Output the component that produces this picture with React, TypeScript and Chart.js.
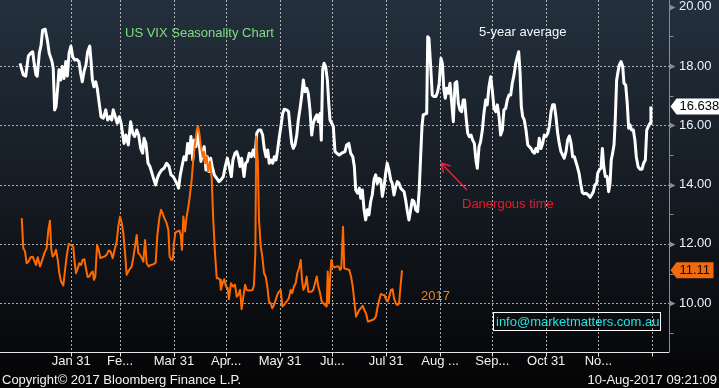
import React, { useEffect, useRef } from 'react';
import { Chart, registerables } from 'chart.js';

Chart.register(...registerables);

// ---------- data ----------
const monthEndDays = [31, 59, 90, 120, 151, 181, 212, 243, 273, 304, 334, 365];
const monthLabels = ['Jan 31', 'Fe...', 'Mar 31', 'Apr...', 'May 31', 'Ju...', 'Jul 31', 'Aug ...', 'Sep...', 'Oct 31', 'No...', ''];
const yTickValues = [9, 10, 11, 12, 13, 14, 15, 16, 17, 18, 19, 20];
const yGridValues = [10, 12, 14, 16, 18];

// 5-year average (day of year, VIX)
const avgDays = [
  1.5, 3.4, 4.8, 6.3, 7.6, 8.8, 9.5, 10.7, 11.4, 12.6, 13.6, 14.5, 16.0, 17.2, 18.3, 19.9, 20.6, 21.4, 22.2, 23.2,
  23.9, 24.9, 25.8, 26.8, 27.8, 28.7, 29.7, 30.8, 31.8, 32.9, 34.1, 35.4, 36.4, 37.3, 38.3, 39.4, 40.4, 41.6, 42.3, 43.1,
  44.0, 45.0, 45.9, 46.9, 48.1, 49.4, 50.8, 51.9, 53.2, 54.2, 55.1, 56.3, 57.4, 58.6, 59.6, 61.3, 62.4, 63.8, 65.1, 66.3,
  67.4, 68.6, 69.7, 70.9, 72.0, 72.8, 73.9, 75.1, 76.2, 77.4, 78.5, 79.5, 80.4, 81.6, 82.9, 84.3, 85.8, 87.2, 88.3, 89.6,
  90.6, 91.6, 92.7, 93.5, 94.6, 95.8, 96.9, 97.9, 98.8, 99.8, 100.8, 101.7, 102.7, 103.7, 104.6, 105.5, 106.5, 107.4, 108.4, 109.2,
  110.1, 111.1, 112.0, 113.2, 114.6, 115.9, 117.0, 118.4, 119.5, 120.7, 121.8, 123.0, 123.9, 125.1, 126.1, 127.0, 128.0, 128.9, 130.3, 131.2,
  132.2, 133.3, 134.5, 135.6, 136.6, 137.6, 138.7, 139.9, 141.0, 141.9, 142.9, 143.9, 144.8, 145.8, 146.8, 147.7, 148.7, 149.6, 150.6, 151.5,
  152.5, 153.4, 154.8, 155.9, 156.7, 157.7, 158.6, 159.6, 160.6, 161.5, 162.5, 163.4, 164.4, 165.3, 166.3, 167.2, 168.2, 169.2, 170.1, 171.1,
  172.1, 173.0, 174.0, 174.7, 175.5, 176.3, 177.2, 178.2, 179.0, 179.7, 180.7, 181.6, 182.6, 183.6, 185.0, 186.4, 188.3, 189.3, 190.5, 191.6,
  192.8, 193.7, 194.5, 195.6, 196.6, 197.4, 198.3, 199.3, 200.2, 201.2, 202.1, 203.1, 204.0, 205.0, 206.0, 206.9, 207.9, 208.9, 209.8, 210.8,
  211.7, 212.6, 213.6, 214.6, 215.5, 216.5, 217.5, 218.4, 219.4, 220.4, 221.3, 222.3, 223.2, 224.2, 225.1, 226.1, 227.0, 228.0, 229.0, 230.1,
  231.0, 231.9, 232.6, 233.3, 234.3, 235.3, 235.9, 236.6, 237.6, 238.5, 239.5, 240.6, 241.6, 242.5, 243.5, 244.3, 245.2, 246.0, 246.8, 247.7,
  248.7, 249.7, 250.6, 251.6, 252.6, 253.5, 254.4, 255.4, 256.3, 257.1, 257.9, 258.9, 259.8, 260.8, 261.7, 262.7, 263.6, 264.4, 265.4, 266.3,
  267.3, 268.2, 269.2, 270.1, 271.1, 272.1, 273.0, 274.0, 275.0, 275.9, 276.9, 277.8, 278.8, 279.7, 280.7, 281.6, 282.6, 283.6, 284.5, 285.5,
  286.5, 287.4, 288.2, 289.0, 289.7, 290.5, 291.4, 292.4, 293.4, 294.3, 295.3, 296.2, 297.2, 298.1, 299.1, 300.0, 301.0, 302.0, 302.9, 303.9,
  304.9, 305.8, 306.8, 307.7, 308.7, 309.6, 310.6, 311.5, 312.5, 314.4, 315.4, 316.3, 317.3, 318.3, 319.2, 320.2, 321.0, 321.9, 322.9, 323.8,
  324.8, 325.7, 326.9, 328.2, 329.2, 330.1, 331.1, 332.0, 333.0, 333.6, 334.5, 335.5, 336.3, 337.1, 338.0, 339.0, 339.9, 340.7, 341.4, 342.2,
  343.0, 343.7, 344.5, 345.3, 346.0, 347.0, 348.0, 348.7, 349.7, 350.6, 351.4, 352.2, 353.1, 354.1, 355.0, 355.8, 356.8, 357.9, 359.1, 360.0,
  361.0, 361.8, 362.7, 363.7, 364.2,
];
const avgValues = [
  18.09, 17.70, 17.66, 18.34, 18.43, 18.48, 18.15, 17.70, 17.66, 18.43, 18.70, 19.21, 19.24, 18.88, 18.43, 18.15, 17.92, 16.52, 16.63, 17.30,
  17.87, 17.53, 17.98, 17.58, 18.15, 17.66, 18.43, 18.67, 18.31, 18.20, 18.22, 18.15, 17.75, 17.47, 17.81, 18.03, 18.48, 18.67, 18.20, 17.53,
  17.30, 17.47, 17.25, 16.80, 16.29, 16.24, 16.52, 16.18, 16.29, 16.18, 16.52, 16.29, 16.07, 16.29, 16.07, 15.39, 15.67, 15.34, 16.12, 15.73,
  15.62, 15.84, 15.67, 15.22, 15.06, 15.56, 15.39, 14.72, 14.61, 14.38, 14.16, 13.99, 14.21, 14.38, 14.49, 14.55, 14.72, 14.61, 14.33, 14.27,
  14.16, 14.04, 13.88, 14.27, 14.61, 14.94, 14.83, 15.39, 15.06, 15.62, 14.83, 15.50, 15.28, 15.84, 15.34, 14.78, 15.06, 15.28, 14.49, 14.94,
  14.44, 14.89, 14.61, 14.33, 14.21, 14.10, 14.16, 14.27, 14.61, 14.89, 14.61, 14.27, 14.83, 15.06, 15.11, 14.94, 14.61, 14.89, 14.27, 14.72,
  14.78, 15.06, 14.94, 15.17, 14.94, 15.73, 15.84, 15.84, 15.67, 15.22, 14.94, 15.17, 14.72, 14.83, 14.72, 14.94, 14.83, 15.17, 15.62, 15.96,
  16.40, 16.54, 16.52, 16.46, 15.96, 15.39, 15.22, 15.34, 15.67, 16.18, 16.57, 16.97, 17.53, 17.13, 17.25, 17.08, 16.52, 15.67, 16.07, 16.24,
  16.35, 16.12, 16.40, 15.50, 17.87, 18.09, 17.98, 17.53, 16.74, 16.18, 16.07, 15.96, 15.11, 15.06, 15.00, 15.06, 15.11, 15.34, 15.39, 15.06,
  14.94, 14.61, 13.82, 13.71, 13.88, 13.54, 13.82, 13.15, 12.81, 13.15, 12.98, 13.43, 13.65, 14.16, 14.33, 14.04, 14.21, 14.16, 13.60, 13.93,
  14.38, 14.72, 14.49, 14.16, 14.04, 13.65, 13.93, 14.10, 14.04, 13.88, 13.82, 13.76, 13.48, 13.09, 12.81, 13.15, 13.48, 13.43, 13.15, 13.09,
  13.82, 15.06, 15.96, 16.35, 16.38, 16.40, 18.99, 18.93, 17.98, 17.02, 16.97, 16.97, 17.13, 17.42, 18.26, 18.09, 17.19, 16.91, 17.25, 17.08,
  17.42, 16.74, 16.12, 17.42, 17.47, 16.74, 16.52, 16.46, 16.85, 16.85, 16.29, 15.73, 15.62, 15.67, 15.50, 15.39, 14.83, 14.55, 15.28, 15.45,
  15.84, 16.40, 16.85, 16.69, 17.30, 17.64, 17.19, 16.57, 16.46, 16.69, 16.29, 15.67, 15.84, 16.52, 16.57, 16.85, 17.02, 17.02, 17.42, 17.70,
  18.09, 18.31, 18.48, 17.75, 16.63, 16.29, 16.18, 15.84, 15.34, 15.28, 15.22, 15.11, 15.06, 15.22, 15.11, 15.56, 15.22, 15.39, 15.67, 15.62,
  15.73, 15.96, 16.46, 16.69, 16.69, 16.29, 15.73, 15.39, 15.11, 14.89, 15.11, 15.50, 15.64, 15.39, 14.94, 14.94, 14.78, 14.61, 14.38, 14.04,
  13.73, 13.69, 13.71, 13.65, 13.57, 13.65, 13.76, 13.99, 14.04, 14.38, 14.49, 14.55, 15.22, 14.61, 14.27, 14.27, 13.76, 14.04, 14.83, 15.06,
  15.34, 16.18, 17.53, 17.81, 18.03, 18.15, 17.98, 17.42, 17.36, 16.74, 15.90, 16.01, 15.84, 15.84, 15.50, 14.94, 14.61, 14.52, 14.52, 14.72,
  14.83, 15.84, 15.96, 16.07, 16.638,
];

// 2017 (day of year, VIX)
const y2017Days = [
  2.5, 3.4, 4.4, 5.3, 6.3, 7.6, 8.8, 10.7, 11.7, 13.0, 14.3, 15.5, 16.8, 17.8, 18.7, 19.5, 20.3, 21.2, 22.2, 23.2,
  24.1, 25.1, 26.4, 27.4, 28.3, 29.5, 30.6, 32.1, 32.9, 33.7, 34.7, 35.6, 36.6, 37.5, 38.5, 39.4, 40.4, 41.3, 42.3, 43.3,
  44.0, 44.8, 45.8, 46.7, 47.7, 48.8, 50.0, 51.3, 52.5, 53.6, 54.8, 55.9, 57.1, 58.0, 59.0, 60.0, 60.9, 61.9, 62.8, 64.3,
  65.7, 66.6, 67.6, 68.6, 69.5, 70.5, 71.5, 72.4, 73.4, 74.3, 75.5, 76.6, 78.1, 79.5, 80.4, 81.6, 82.6, 83.5, 84.5, 85.8,
  86.8, 87.5, 88.5, 89.3, 90.0, 90.8, 91.9, 93.1, 93.9, 94.6, 95.4, 96.4, 97.3, 98.3, 99.2, 100.2, 101.1, 102.1, 103.1, 103.8,
  104.6, 105.5, 106.5, 107.3, 108.0, 108.8, 109.7, 110.7, 111.7, 112.6, 113.6, 114.6, 115.5, 116.5, 117.0, 118.0, 118.9, 119.9, 120.9, 121.6,
  122.8, 124.1, 125.1, 126.1, 127.0, 128.0, 128.9, 129.9, 130.9, 131.8, 132.8, 134.1, 135.3, 136.0, 136.8, 137.3, 138.2, 138.9, 139.9, 140.8,
  141.8, 142.7, 143.7, 144.6, 145.6, 146.5, 147.5, 148.5, 149.4, 150.4, 151.4, 152.3, 153.3, 154.2, 155.2, 156.1, 157.1, 158.0, 159.0, 160.0,
  160.9, 161.9, 162.9, 163.6, 164.4, 165.3, 166.3, 167.2, 168.2, 169.2, 170.1, 171.1, 172.1, 173.0, 174.0, 174.9, 175.9, 176.8, 177.8, 178.4,
  179.1, 179.7, 180.5, 181.3, 182.4, 183.6, 184.7, 185.5, 186.2, 187.2, 187.9, 189.3, 190.8, 191.8, 192.8, 193.7, 194.7, 195.6, 196.6, 197.5,
  198.5, 199.4, 200.4, 201.5, 202.7, 203.8, 205.0, 206.1, 207.1, 208.0, 208.9, 210.0, 211.0, 211.9, 212.9, 213.8, 214.8, 215.7, 216.5, 217.5,
  218.4, 219.4, 220.4, 221.1,
];
const y2017Values = [
  12.87, 11.85, 11.74, 11.35, 11.40, 11.55, 11.57, 11.29, 11.55, 11.24, 11.46, 11.69, 11.85, 12.47, 12.78, 11.80, 11.57, 11.63, 11.80, 11.46,
  11.01, 10.73, 10.60, 11.12, 11.57, 12.00, 11.97, 11.91, 11.40, 11.01, 11.18, 11.35, 11.29, 11.46, 11.48, 11.18, 10.88, 10.90, 11.01, 11.07,
  10.79, 10.90, 11.97, 11.80, 11.52, 11.55, 11.57, 11.63, 11.78, 11.74, 11.52, 11.80, 12.08, 12.58, 12.92, 12.70, 12.36, 11.69, 10.96, 11.12,
  11.24, 11.52, 11.91, 12.30, 11.69, 11.63, 11.52, 11.40, 12.13, 11.35, 11.24, 11.29, 11.31, 11.37, 12.25, 12.87, 13.15, 13.03, 12.87, 12.70,
  12.47, 11.57, 11.46, 11.48, 12.02, 12.38, 12.42, 12.45, 12.30, 11.80, 12.92, 12.42, 12.92, 13.26, 13.65, 14.16, 14.83, 15.39, 15.84, 15.98,
  15.73, 15.28, 14.94, 15.11, 14.72, 14.94, 14.44, 14.78, 14.21, 12.81, 11.69, 10.84, 10.84, 10.79, 10.45, 10.67, 10.81, 10.56, 10.51, 10.13,
  10.67, 10.56, 10.62, 10.22, 10.28, 10.45, 9.80, 10.22, 10.62, 10.45, 10.43, 10.43, 10.45, 10.62, 11.69, 15.62, 14.83, 12.81, 11.91, 11.57,
  11.01, 10.90, 10.56, 10.06, 10.00, 9.83, 9.94, 10.11, 10.28, 10.39, 10.45, 9.89, 9.94, 10.02, 10.09, 10.17, 10.45, 10.34, 10.56, 10.67,
  11.01, 11.18, 11.46, 10.79, 10.45, 10.56, 10.90, 10.39, 10.39, 10.39, 10.45, 10.67, 10.90, 10.56, 10.34, 10.06, 10.00, 9.94, 9.89, 11.07,
  10.00, 10.79, 11.46, 11.24, 11.21, 11.24, 11.24, 11.12, 11.18, 12.58, 11.18, 11.15, 11.12, 10.90, 10.56, 10.06, 9.55, 9.66, 9.78, 9.83,
  9.91, 9.78, 9.66, 9.38, 9.40, 9.43, 9.46, 9.55, 9.89, 10.11, 10.31, 10.28, 10.28, 10.13, 10.06, 10.22, 10.45, 10.47, 10.17, 10.00,
  9.94, 9.98, 10.67, 11.11,
];

// ---------- styling ----------
const FONT = "'Liberation Sans', Arial, sans-serif";
const WHITE = '#ffffff';
const ORANGE = '#ff6a00';

const notes = [
  { text: 'US VIX Seasonality Chart', x: 125, y: 33, color: '#80dc80' },
  { text: '5-year average', x: 479, y: 32, color: '#f4f6fa' },
  { text: 'Danergous time', x: 462, y: 204, color: '#e81c30' },
  { text: '2017', x: 421, y: 296, color: '#f0801c' },
];

const decoPlugin = {
  id: 'deco',
  beforeDraw(chart: any) {
    const { ctx, width, height } = chart;
    const g = ctx.createLinearGradient(0, 0, 0, height);
    g.addColorStop(0, '#23303d');
    g.addColorStop(0.5, '#151b22');
    g.addColorStop(1, '#040405');
    ctx.save();
    ctx.fillStyle = g;
    ctx.fillRect(0, 0, width, height);
    ctx.restore();
  },
  beforeDatasetsDraw(chart: any) {
    const { ctx, chartArea: a, scales } = chart;
    const x = scales.x, y = scales.y;
    ctx.save();
    ctx.strokeStyle = 'rgba(200,200,200,0.85)';
    ctx.lineWidth = 1;
    ctx.setLineDash([2, 2]);
    for (const d of monthEndDays) {
      const px = Math.round(x.getPixelForValue(d)) + 0.5;
      ctx.beginPath();
      ctx.moveTo(px, 0);
      ctx.lineTo(px, a.bottom);
      ctx.stroke();
    }
    for (const v of yGridValues) {
      const py = Math.round(y.getPixelForValue(v)) + 0.5;
      ctx.beginPath();
      ctx.moveTo(a.left, py);
      ctx.lineTo(a.right, py);
      ctx.stroke();
    }
    ctx.restore();
  },
  afterDraw(chart: any) {
    const { ctx, chartArea: a, scales, width } = chart;
    const x = scales.x, y = scales.y;
    ctx.save();
    // bottom axis
    const by = Math.round(a.bottom) + 0.5;
    ctx.strokeStyle = '#e6e6e6';
    ctx.lineWidth = 1;
    ctx.beginPath();
    ctx.moveTo(0, by);
    ctx.lineTo(a.right, by);
    ctx.stroke();
    for (const d of monthEndDays) {
      const px = Math.round(x.getPixelForValue(d)) + 0.5;
      ctx.beginPath();
      ctx.moveTo(px, by);
      ctx.lineTo(px, by + 4);
      ctx.stroke();
    }
    // right axis
    const rx = Math.round(a.right) + 0.5;
    ctx.strokeStyle = '#8c8c8c';
    ctx.beginPath();
    ctx.moveTo(rx, 0);
    ctx.lineTo(rx, by);
    ctx.stroke();
    ctx.fillStyle = '#8c8c8c';
    for (const v of yTickValues) {
      const py = Math.round(y.getPixelForValue(v)) + 0.5;
      if (v % 2 === 0) {
        ctx.beginPath();
        ctx.moveTo(rx, py - 3);
        ctx.lineTo(rx + 6, py);
        ctx.lineTo(rx, py + 3);
        ctx.closePath();
        ctx.fill();
      } else {
        ctx.beginPath();
        ctx.moveTo(rx, py);
        ctx.lineTo(rx + 4, py);
        ctx.stroke();
      }
    }
    // annotations
    ctx.font = `13px ${FONT}`;
    ctx.textBaseline = 'middle';
    ctx.textAlign = 'left';
    for (const n of notes) {
      ctx.fillStyle = n.color;
      ctx.fillText(n.text, n.x, n.y);
    }
    // arrow
    ctx.strokeStyle = '#ec2040';
    ctx.lineWidth = 1.5;
    const tail = [467, 190], tip = [441, 163];
    ctx.beginPath();
    ctx.moveTo(tail[0], tail[1]);
    ctx.lineTo(tip[0], tip[1]);
    const ang = Math.atan2(tip[1] - tail[1], tip[0] - tail[0]);
    const hl = 10;
    ctx.moveTo(tip[0], tip[1]);
    ctx.lineTo(tip[0] - hl * Math.cos(ang - 0.5), tip[1] - hl * Math.sin(ang - 0.5));
    ctx.moveTo(tip[0], tip[1]);
    ctx.lineTo(tip[0] - hl * Math.cos(ang + 0.5), tip[1] - hl * Math.sin(ang + 0.5));
    ctx.stroke();
    // info box
    ctx.strokeStyle = '#ffffff';
    ctx.lineWidth = 1;
    ctx.strokeRect(493.5, 312.5, 167, 18);
    ctx.fillStyle = '#22e4e4';
    ctx.font = `13px ${FONT}`;
    ctx.fillText('info@marketmatters.com.au', 496, 322);
    // footer
    ctx.font = `13px ${FONT}`;
    ctx.fillStyle = '#f2f2f2';
    ctx.fillText('Copyright\u00a9 2017 Bloomberg Finance L.P.', 2, 380);
    ctx.textAlign = 'right';
    ctx.fillText('10-Aug-2017 09:21:09', 717, 380);
    ctx.textAlign = 'left';
    // last-value badges
    const badge = (val: number, text: string, fill: string, tc: string, right: number) => {
      const py = y.getPixelForValue(val);
      const h = 16;
      ctx.fillStyle = fill;
      ctx.beginPath();
      ctx.moveTo(rx + 1, py);
      ctx.lineTo(rx + 7, py - h / 2);
      ctx.lineTo(right, py - h / 2);
      ctx.lineTo(right, py + h / 2);
      ctx.lineTo(rx + 7, py + h / 2);
      ctx.closePath();
      ctx.fill();
      ctx.fillStyle = tc;
      ctx.font = `13px ${FONT}`;
      ctx.fillText(text, rx + 10, py + 0.5);
    };
    badge(avgValues[avgValues.length - 1], '16.638', '#ffffff', '#000000', width);
    badge(y2017Values[y2017Values.length - 1], '11.11', '#f26a10', '#1a0a00', rx + 44);
    ctx.restore();
  },
};

export default function App() {
  const ref = useRef<HTMLCanvasElement>(null);
  useEffect(() => {
    document.body.style.margin = '0';
    const canvas = ref.current;
    if (!canvas) return;
    const chart = new Chart(canvas, {
      type: 'line',
      data: {
        datasets: [
          {
            label: '2017',
            data: y2017Days.map((d, i) => ({ x: d, y: y2017Values[i] })),
            borderColor: ORANGE,
            borderWidth: 2,
            pointRadius: 0,
            tension: 0,
            borderJoinStyle: 'round',
          },
          {
            label: '5-year average',
            data: avgDays.map((d, i) => ({ x: d, y: avgValues[i] })),
            borderColor: WHITE,
            borderWidth: 3,
            pointRadius: 0,
            tension: 0,
            borderJoinStyle: 'round',
          },
        ],
      },
      options: {
        animation: false,
        responsive: false,
        devicePixelRatio: 1,
        layout: { padding: 0 },
        plugins: { legend: { display: false }, tooltip: { enabled: false } },
        scales: {
          x: {
            type: 'linear',
            min: -10,
            max: 374.6,
            afterBuildTicks: (s: any) => {
              s.ticks = monthEndDays.map((v) => ({ value: v }));
            },
            afterFit: (s: any) => {
              s.height = 36;
              s.paddingLeft = 0;
              s.paddingRight = 0;
            },
            grid: { display: false, drawTicks: false },
            border: { display: false },
            ticks: {
              autoSkip: false,
              maxRotation: 0,
              minRotation: 0,
              padding: 2,
              color: '#f2f2f2',
              font: { family: FONT, size: 13 },
              callback: (_v: any, i: number) => monthLabels[i],
            },
          },
          y: {
            type: 'linear',
            position: 'right',
            min: 8.354,
            max: 20.226,
            afterBuildTicks: (s: any) => {
              s.ticks = yTickValues.map((v) => ({ value: v }));
            },
            afterFit: (s: any) => {
              s.width = 50;
              s.paddingTop = 0;
              s.paddingBottom = 0;
            },
            grid: { display: false, drawTicks: false },
            border: { display: false },
            ticks: {
              padding: 10,
              color: '#eef2f8',
              font: { family: FONT, size: 13 },
              callback: (v: any) => (Number(v) % 2 === 0 ? Number(v).toFixed(2) : ''),
            },
          },
        },
      },
      plugins: [decoPlugin],
    } as any);
    return () => chart.destroy();
  }, []);
  return (
    <div style={{ position: 'fixed', left: 0, top: 0, width: 719, height: 388 }}>
      <canvas ref={ref} width={719} height={388} style={{ display: 'block', width: 719, height: 388 }} />
    </div>
  );
}
